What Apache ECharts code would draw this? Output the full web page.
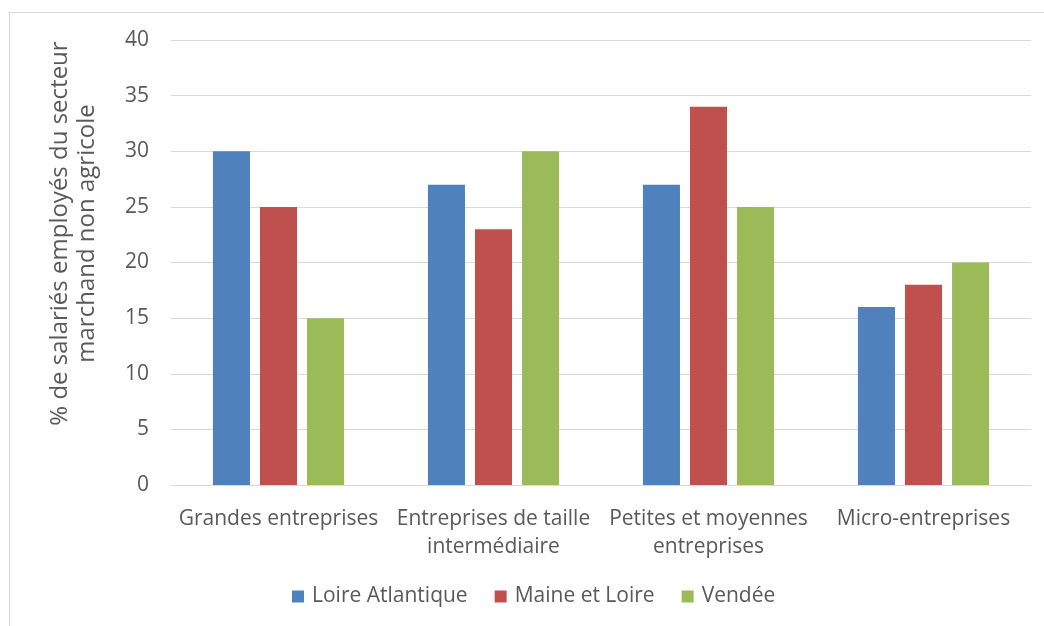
<!DOCTYPE html>
<html><head><meta charset="utf-8">
<script src="https://cdn.jsdelivr.net/npm/echarts@6/dist/echarts.min.js"></script>
<style>
html,body{margin:0;padding:0;background:#fff;}
#frame{position:absolute;left:9px;top:12px;width:1100px;height:700px;border:1px solid #d9d9d9;box-sizing:border-box;}
#c{position:absolute;left:0;top:0;width:1044px;height:626px;}
</style></head>
<body><div id="frame"></div><div id="c"></div>
<script>
const categories = ['Grandes entreprises', 'Entreprises de taille\nintermédiaire', 'Petites et moyennes\nentreprises', 'Micro-entreprises'];
const seriesNames = ['Loire Atlantique', 'Maine et Loire', 'Vendée'];
const loireAtlantique = [30, 27, 27, 16];
const maineEtLoire = [25, 23, 34, 18];
const vendee = [15, 30, 25, 20];
const yTicks = [0, 40, 5];
const colors = ['#4F81BD', '#C0504D', '#9BBB59'];
const font = 'Open Sans';
const chart = echarts.init(document.getElementById('c'));
const values = [loireAtlantique, maineEtLoire, vendee];
chart.setOption({
  animation: false,
  textStyle: {fontFamily: font},
  grid: {left: 171, right: 13, top: 40, bottom: 141},
  legend: {
    bottom: 14, left: 287, itemWidth: 12, itemHeight: 12, itemGap: 27,
    icon: 'rect', textStyle: {fontSize: 21, color: '#595959', fontFamily: font, padding: [0, 0, 0, 3]},
    data: seriesNames
  },
  xAxis: {
    type: 'category', data: categories,
    axisLine: {lineStyle: {color: '#d9d9d9'}}, axisTick: {show: false},
    axisLabel: {fontSize: 21, color: '#595959', margin: 20, lineHeight: 28, interval: 0}
  },
  yAxis: {
    type: 'value', min: yTicks[0], max: yTicks[1], interval: yTicks[2],
    name: '% de salariés employés du secteur\nmarchand non agricole',
    nameLocation: 'middle', nameGap: 70, nameRotate: 90,
    nameTextStyle: {fontSize: 24, color: '#595959', lineHeight: 27, fontFamily: font, padding: [0, 0, 0, 58]},
    axisLine: {show: false}, axisTick: {show: false},
    axisLabel: {fontSize: 21, color: '#595959', margin: 22},
    splitLine: {lineStyle: {color: '#d9d9d9'}}
  },
  series: seriesNames.map((n, i) => ({
    name: n, type: 'bar', data: values[i], barGap: '27%', barCategoryGap: '39%',
    itemStyle: {color: colors[i]}
  }))
});
</script></body></html>
